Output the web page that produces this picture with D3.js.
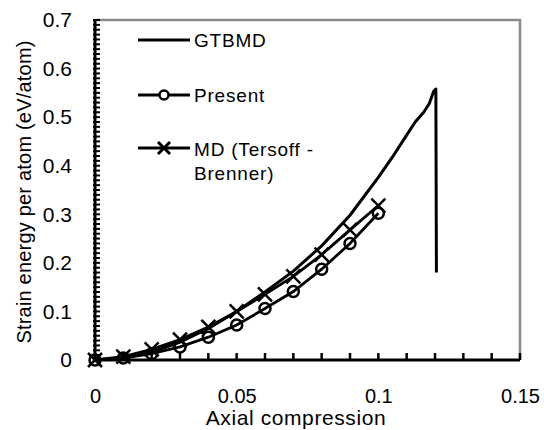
<!DOCTYPE html>
<html>
<head>
<meta charset="utf-8">
<script src="https://cdn.jsdelivr.net/npm/d3@7"></script>
<style>
  body { margin: 0; background: #fff; }
  text { font-family: "Liberation Sans", Arial, sans-serif; fill: #000; }
</style>
</head>
<body>
<svg id="canvas"></svg>
<script>
// data
let gtbmdX = [0, 0.01, 0.02, 0.03, 0.04, 0.05, 0.06, 0.07, 0.08, 0.09, 0.1, 0.105, 0.11, 0.113, 0.116, 0.118, 0.1195, 0.1203, 0.1205]
let gtbmdY = [0, 0.004, 0.016, 0.037, 0.065, 0.1, 0.14, 0.183, 0.235, 0.298, 0.376, 0.418, 0.463, 0.49, 0.51, 0.528, 0.553, 0.558, 0.18]
let strainX = [0, 0.01, 0.02, 0.03, 0.04, 0.05, 0.06, 0.07, 0.08, 0.09, 0.1]
let presentY = [0, 0.004, 0.013, 0.027, 0.047, 0.072, 0.106, 0.141, 0.187, 0.24, 0.302]
let mdY = [0, 0.007, 0.022, 0.042, 0.068, 0.1, 0.135, 0.172, 0.217, 0.268, 0.318]
let xTicks = [0, 0.05, 0.1, 0.15]
let yTicks = [0, 0.1, 0.2, 0.3, 0.4, 0.5, 0.6, 0.7]
let legendNames = ["GTBMD", "Present", "MD (Tersoff -", "Brenner)"]

let width = 544
let height = 430
let padLeft = 95, padRight = 520, padTop = 20, padBottom = 360

let svg = d3.select('#canvas').attr('width', width).attr('height', height)

let xScale = d3.scaleLinear().domain([0, 0.15]).range([padLeft, padRight])
let yScale = d3.scaleLinear().domain([0, 0.7]).range([padBottom, padTop])

// gray frame top & right
svg.append('path')
    .attr('d', `M${padLeft},${padTop}H${padRight}V${padBottom}`)
    .attr('fill', 'none').attr('stroke', '#8a8a8a').attr('stroke-width', 2.5)

// minor ticks every 0.01
let minorX = d3.range(0, 0.1501, 0.01)
let minorY = d3.range(0, 0.7001, 0.01)

svg.append('g').selectAll('line').data(minorX).join('line')
    .attr('x1', d => xScale(d)).attr('x2', d => xScale(d))
    .attr('y1', padBottom).attr('y2', padBottom - 7)
    .attr('stroke', '#000').attr('stroke-width', 2.5)

svg.append('g').selectAll('line').data(minorY).join('line')
    .attr('x1', padLeft - 2).attr('x2', padLeft + 5)
    .attr('y1', d => yScale(d)).attr('y2', d => yScale(d))
    .attr('stroke', '#000').attr('stroke-width', 2)

// axes
let xAxis = d3.axisBottom(xScale).tickValues(xTicks).tickSize(0).tickPadding(29)
    .tickFormat(d => d === 0 ? '0' : String(+d.toFixed(2)))
let gx = svg.append('g').attr('transform', `translate(0,${padBottom})`).call(xAxis)
gx.select('.domain').remove()
gx.selectAll('text').attr('font-size', 20).attr('font-family', '"Liberation Sans", Arial, sans-serif')

let yAxis = d3.axisLeft(yScale).tickValues(yTicks).tickSize(0).tickPadding(23)
    .tickFormat(d => d === 0 ? '0' : String(+d.toFixed(1)))
let gy = svg.append('g').attr('transform', `translate(${padLeft},0)`).call(yAxis)
gy.select('.domain').remove()
gy.selectAll('text').attr('font-size', 21).attr('font-family', '"Liberation Sans", Arial, sans-serif')

svg.append('line').attr('x1', padLeft).attr('x2', padRight).attr('y1', padBottom).attr('y2', padBottom)
    .attr('stroke', '#000').attr('stroke-width', 3)
svg.append('line').attr('x1', padLeft).attr('x2', padLeft).attr('y1', padTop - 1).attr('y2', padBottom + 1.5)
    .attr('stroke', '#000').attr('stroke-width', 3)

// titles
svg.append('text').attr('x', 296).attr('y', 425).attr('text-anchor', 'middle')
    .attr('font-size', 21).attr('letter-spacing', 0.6).text('Axial compression')
svg.append('text').attr('transform', 'translate(31,192) rotate(-90)').attr('text-anchor', 'middle')
    .attr('font-size', 20).attr('letter-spacing', 0.2).text('Strain energy per atom (eV/atom)')

// series
let line = d3.line().x(d => xScale(d[0])).y(d => yScale(d[1]))

let gtbmd = gtbmdX.map((x, i) => [x, gtbmdY[i]])
let present = strainX.map((x, i) => [x, presentY[i]])
let md = strainX.map((x, i) => [x, mdY[i]])

svg.append('path').datum(gtbmd).attr('d', line)
    .attr('fill', 'none').attr('stroke', '#000').attr('stroke-width', 3).attr('stroke-linejoin', 'round')
svg.append('path').datum(present).attr('d', line)
    .attr('fill', 'none').attr('stroke', '#000').attr('stroke-width', 2.8)
svg.append('path').datum(md).attr('d', line)
    .attr('fill', 'none').attr('stroke', '#000').attr('stroke-width', 2.8)

svg.append('g').selectAll('circle').data(present).join('circle')
    .attr('cx', d => xScale(d[0])).attr('cy', d => yScale(d[1])).attr('r', 5.5)
    .attr('fill', 'none').attr('stroke', '#000').attr('stroke-width', 2.5)

svg.append('g').selectAll('path').data(md).join('path')
    .attr('d', 'M-7,-7L7,7M-7,7L7,-7')
    .attr('transform', d => `translate(${xScale(d[0])},${yScale(d[1])})`)
    .attr('stroke', '#000').attr('stroke-width', 2.5).attr('fill', 'none')

// legend
let lg = svg.append('g')
let rows = [40, 95, 148]
rows.forEach(y => lg.append('line').attr('x1', 138).attr('x2', 190).attr('y1', y).attr('y2', y)
    .attr('stroke', '#000').attr('stroke-width', 3))
lg.append('circle').attr('cx', 164).attr('cy', 95).attr('r', 4.5)
    .attr('fill', '#fff').attr('stroke', '#000').attr('stroke-width', 2.5)
lg.append('path').attr('d', 'M-6,-6L6,6M-6,6L6,-6').attr('transform', 'translate(164,148)')
    .attr('stroke', '#000').attr('stroke-width', 3)
let textY = [47, 102, 156, 180]
legendNames.forEach((t, i) => lg.append('text').attr('x', 194).attr('y', textY[i])
    .attr('font-size', 19).attr('letter-spacing', 0.8).text(t))
</script>
</body>
</html>
